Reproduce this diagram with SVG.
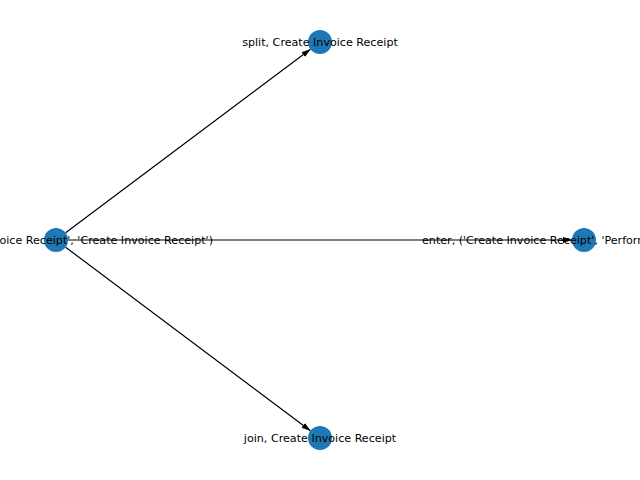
<svg xmlns="http://www.w3.org/2000/svg" width="640" height="480" viewBox="0 0 640 480">
<style>
.n{fill:#1f77b4;}
.e{stroke:#000;stroke-width:1.2;fill:none;}
.t{font-family:"DejaVu Sans",sans-serif;font-size:11.11px;fill:#000;}
</style>
<defs>
<marker id="ah" markerWidth="9" markerHeight="8" refX="9" refY="4" orient="auto" markerUnits="userSpaceOnUse">
<path d="M0,1 L9,4 L0,7 Z" fill="#000"/>
</marker>
</defs>
<rect width="640" height="480" fill="#fff"/>
<g id="edges">
<line class="e" x1="65.6" y1="232.8" x2="310.4" y2="49.2" marker-end="url(#ah)"/>
<line class="e" x1="68" y1="240" x2="572" y2="240" marker-end="url(#ah)"/>
<line class="e" x1="65.6" y1="247.2" x2="310.4" y2="430.8" marker-end="url(#ah)"/>
</g>
<g id="node-split">
<circle class="n" cx="320" cy="42" r="12"/>
<text class="t" x="320" y="46" text-anchor="middle">split, Create Invoice Receipt</text>
</g>
<g id="node-left">
<circle class="n" cx="56" cy="240" r="12"/>
<text class="t" x="213" y="244" text-anchor="end">oice Receipt', 'Create Invoice Receipt')</text>
</g>
<g id="node-right">
<circle class="n" cx="584" cy="240" r="12"/>
<text class="t" x="422" y="244">enter, ('Create Invoice Receipt', 'Perform</text>
</g>
<g id="node-join">
<circle class="n" cx="320" cy="438" r="12"/>
<text class="t" x="320" y="442" text-anchor="middle">join, Create Invoice Receipt</text>
</g>
</svg>
